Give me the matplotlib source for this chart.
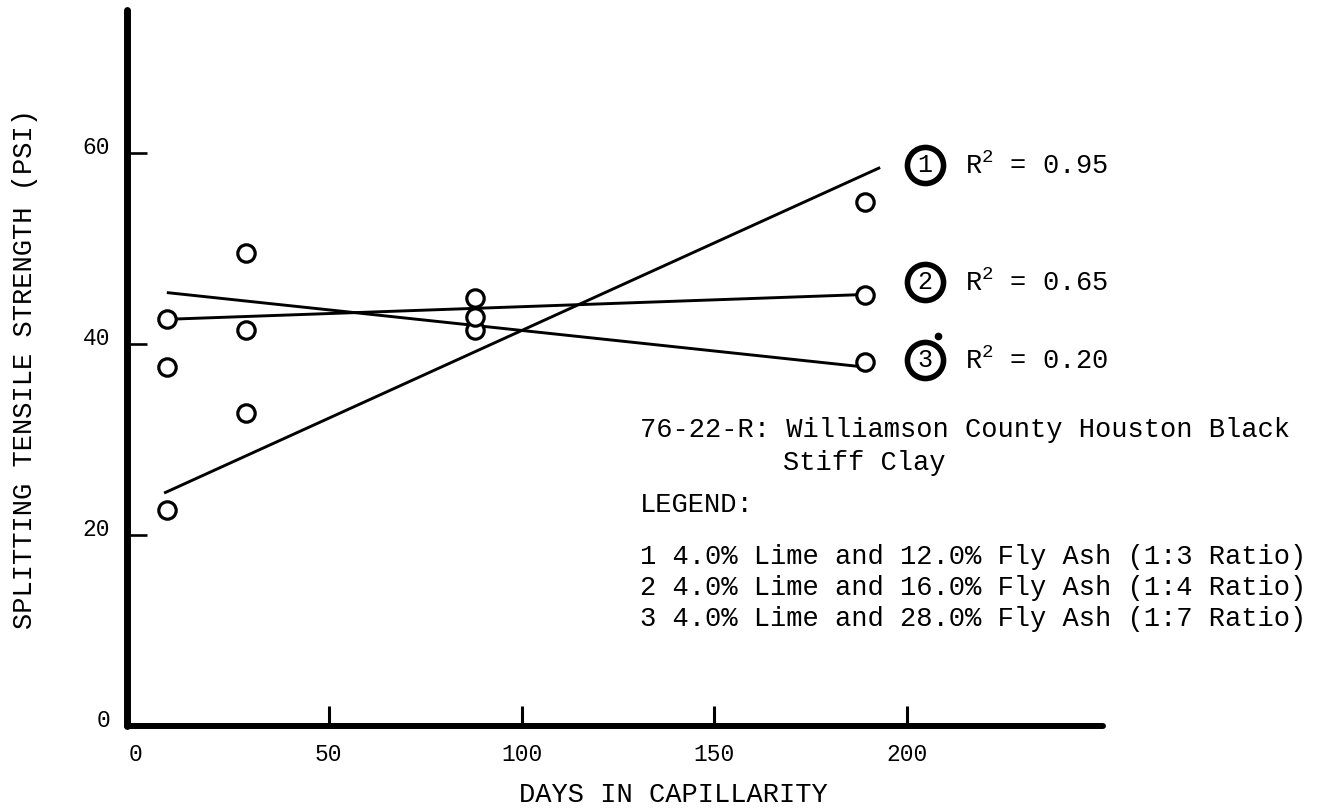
import matplotlib
matplotlib.use("Agg")
from matplotlib import pyplot as plt
from matplotlib import transforms

plt.rcParams['font.family'] = ['Liberation Mono', 'DejaVu Sans Mono']
plt.rcParams['mathtext.fontset'] = 'custom'
plt.rcParams['mathtext.rm'] = 'Liberation Mono'
plt.rcParams['mathtext.it'] = 'Liberation Mono'

# days in capillarity at which specimens were broken
days = [8, 28.5, 88, 189]
# splitting tensile strength (psi) for each mix
mix1 = [22.6, 32.8, 41.5, 54.9]
mix2 = [42.6, 41.5, 44.8, 45.1]
mix3 = [37.6, 49.5, 42.8, 38.1]

# regression lines (end points)
fit1_x, fit1_y = [7.3, 193], [24.4, 58.5]
fit2_x, fit2_y = [8, 189], [42.6, 45.2]
fit3_x, fit3_y = [8, 189], [45.4, 37.6]
r2 = [0.95, 0.65, 0.20]

xticks = [0, 50, 100, 150, 200]
yticks = [0, 20, 40, 60]

soil = "76-22-R: Williamson County Houston Black"
soil2 = "Stiff Clay"
legend_rows = [
    "1 4.0% Lime and 12.0% Fly Ash (1:3 Ratio)",
    "2 4.0% Lime and 16.0% Fly Ash (1:4 Ratio)",
    "3 4.0% Lime and 28.0% Fly Ash (1:7 Ratio)",
]

W, H = 1335, 810
fig = plt.figure(figsize=(W / 100, H / 100), dpi=100)
ax = fig.add_axes([127 / W, 84 / H, 976 / W, 716 / H])


def fxy(px, py):
    # pixel position (from top left) -> figure fraction
    return px / W, 1 - py / H


ax.set_xlim(-2.33, 250.8)
ax.set_ylim(0, 75.0)
for s in ['top', 'right']:
    ax.spines[s].set_visible(False)
ax.spines['left'].set_linewidth(5)
ax.spines['bottom'].set_linewidth(4.3)
for s in ['left', 'bottom']:
    ax.spines[s].set_capstyle('round')

ax.set_xticks(xticks)
ax.set_yticks(yticks)
ax.tick_params(axis='x', direction='in', length=14.5, width=2.2, pad=12, labelsize=16.5)
ax.tick_params(axis='y', direction='in', length=14.5, width=1.9, pad=12, labelsize=16.5)
ax.xaxis.get_major_ticks()[0].tick1line.set_visible(False)
ax.yaxis.get_major_ticks()[0].tick1line.set_visible(False)
lift = transforms.ScaledTranslation(0, 8 / 100, fig.dpi_scale_trans)
for lab in ax.get_yticklabels():
    lab.set_transform(lab.get_transform() + lift)

# fitted lines under the open circles
for fx, fy in [(fit1_x, fit1_y), (fit2_x, fit2_y), (fit3_x, fit3_y)]:
    ax.plot(fx, fy, color='black', lw=2.1, solid_capstyle='butt', zorder=2)
for mix in [mix1, mix2, mix3]:
    ax.plot(days, mix, 'o', ms=12.5, mfc='white', mec='black', mew=2.3, zorder=3)

# circled numbers with R^2
tag_y = [165, 282, 360]
for i, (ty, r) in enumerate(zip(tag_y, r2), start=1):
    x0, y0 = fxy(925, ty)
    ax.plot([x0], [y0], 'o', ms=26, mfc='none', mec='black', mew=4,
            transform=fig.transFigure, clip_on=False)
    fig.text(x0, y0, str(i), ha='center', va='center', fontsize=18)
    fig.text(*fxy(965, ty + 9), "R$^2$ = %.2f" % r, ha='left', va='baseline', fontsize=19.5)

# ink blot above the third tag
ax.plot(*fxy(938, 336), 'o', ms=4.5, color='black', transform=fig.transFigure, clip_on=False)

fig.text(*fxy(640, 430), soil, ha='left', va='center', fontsize=19.5)
fig.text(*fxy(783, 463), soil2, ha='left', va='center', fontsize=19.5)
fig.text(*fxy(640, 505), "LEGEND:", ha='left', va='center', fontsize=19.5)
for k, row in enumerate(legend_rows):
    fig.text(*fxy(640, 557 + 31 * k), row, ha='left', va='center', fontsize=19.5)

fig.text(*fxy(673, 795), "DAYS IN CAPILLARITY", ha='center', va='center', fontsize=19.5)
fig.text(*fxy(25, 369), "SPLITTING TENSILE STRENGTH (PSI)", ha='center', va='center',
         rotation=90, fontsize=19.5)

fig.savefig("out.png", dpi=100)
